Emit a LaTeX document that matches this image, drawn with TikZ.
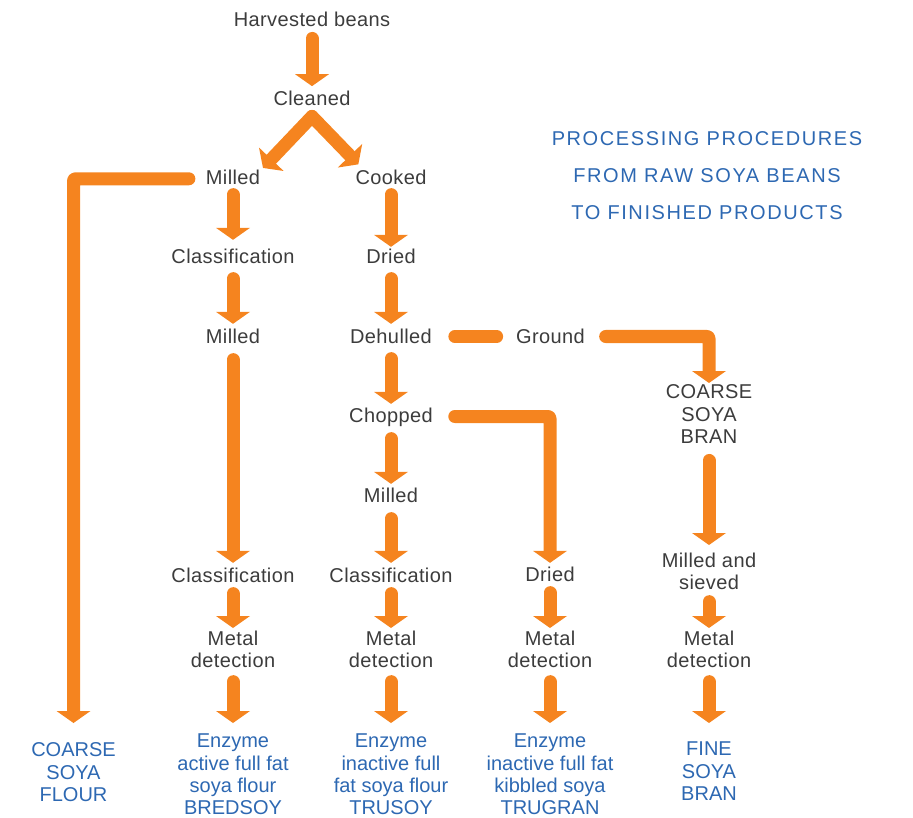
\documentclass[tikz,border=0pt]{standalone}
\usepackage{fontspec}
\setmainfont{Liberation Sans}
\newfontfamily\ttlfont[LetterSpace=8]{Liberation Sans}
\newfontfamily\grayfont[LetterSpace=2]{Liberation Sans}
\usetikzlibrary{arrows.meta}
\definecolor{orng}{HTML}{F5841F}
\definecolor{txtg}{HTML}{3C3C3C}
\definecolor{txtb}{HTML}{2D68B2}
\begin{document}
\begin{tikzpicture}[x=1pt,y=-1pt,
  lab/.style={text=txtg, font=\grayfont\fontsize{20}{22.5}\selectfont, inner sep=0pt, outer sep=0pt, text height=14.3pt, text depth=0pt},
  mlab/.style={text=txtg, font=\grayfont\fontsize{20}{22.5}\selectfont, inner sep=0pt, outer sep=0pt, align=center, anchor=north},
  prod/.style={mlab, text=txtb, font=\normalfont\fontsize{20}{22.3}\selectfont},
  flow/.style={draw=orng, line width=13pt, line cap=round, line join=round, rounded corners=2pt},
  arr/.style={flow, -{Triangle[width=34pt,length=12pt,line width=0pt]}},
]
\useasboundingbox (0,0) rectangle (913,818);

% nodes
\node[lab] (hb) at (312,19.3) {Harvested beans};
\node[lab] (cl) at (312,98.3) {Cleaned};
\node[lab] (m1) at (233,177.5) {Milled};
\node[lab] (ck) at (391,177.5) {Cooked};
\node[lab] (c1) at (233,256) {Classification};
\node[lab] (d1) at (391,256.5) {Dried};
\node[lab] (m2) at (233,336) {Milled};
\node[lab] (dh) at (391,336.5) {Dehulled};
\node[lab] (gr) at (550.5,336.5) {Ground};
\node[mlab] (csb) at (709,385) {COARSE\\SOYA\\BRAN};
\node[lab] (ch) at (391,415) {Chopped};
\node[lab] (m3) at (391,495) {Milled};
\node[lab] (c2) at (233,575) {Classification};
\node[lab] (c3) at (391,575) {Classification};
\node[lab] (d2) at (550,574) {Dried};
\node[mlab] (ms) at (709,553) {Milled and\\sieved};
\node[mlab] (md1) at (233,631) {Metal\\detection};
\node[mlab] (md2) at (391,631) {Metal\\detection};
\node[mlab] (md3) at (550,631) {Metal\\detection};
\node[mlab] (md4) at (709,631) {Metal\\detection};
\node[prod] (p0) at (73.5,743) {COARSE\\SOYA\\FLOUR};
\node[prod] (p1) at (233,734) {Enzyme\\active full fat\\soya flour\\BREDSOY};
\node[prod] (p2) at (391,734) {Enzyme\\inactive full\\fat soya flour\\TRUSOY};
\node[prod] (p3) at (550,734) {Enzyme\\inactive full fat\\kibbled soya\\TRUGRAN};
\node[prod] (p4) at (709,742) {FINE\\SOYA\\BRAN};
\node[prod, font=\ttlfont\fontsize{20}{36.7}\selectfont] (ttl) at (707,131.7)
  {PROCESSING PROCEDURES\\FROM RAW SOYA BEANS\\TO FINISHED PRODUCTS};

% connectors
\draw[arr, shorten <=12pt, shorten >=5pt] (hb.south) -- (cl.north);
\coordinate (apex) at ([yshift=-11pt]cl.south);
\draw[arr] (apex) -- ([xshift=2.9pt,yshift=2.4pt]m1.north east);
\draw[arr] (apex) -- ([xshift=2.8pt,yshift=6pt]ck.north west);
\draw[arr, shorten >=20pt] ([xshift=-17pt,yshift=-1.3pt]m1.west) -| (p0.north);

\draw[arr, shorten <=10pt, shorten >=9pt] (m1.south) -- (c1.north);
\draw[arr, shorten <=15.5pt, shorten >=5pt] (c1.south) -- (m2.north);
\draw[arr, shorten <=16.5pt, shorten >=5pt] (m2.south) -- (c2.north);
\draw[arr, shorten <=11.5pt, shorten >=3pt] (c2.south) -- (md1.north);
\draw[arr, shorten <=13.5pt, shorten >=11pt] (md1.south) -- (p1.north);

\draw[arr, shorten <=10pt, shorten >=2.5pt] (ck.south) -- (d1.north);
\draw[arr, shorten <=15pt, shorten >=5.5pt] (d1.south) -- (dh.north);
\draw[arr, shorten <=15pt, shorten >=4pt] (dh.south) -- (ch.north);
\draw[arr, shorten <=16.5pt, shorten >=4pt] (ch.south) -- (m3.north);
\draw[arr, shorten <=16.5pt, shorten >=5pt] (m3.south) -- (c3.north);
\draw[arr, shorten <=11.5pt, shorten >=3pt] (c3.south) -- (md2.north);
\draw[arr, shorten <=13.5pt, shorten >=11pt] (md2.south) -- (p2.north);

\draw[flow, shorten <=23pt, shorten >=19.5pt] (dh.east) -- (gr.west);
\draw[arr, shorten <=20.8pt, shorten >=2pt] (gr.east) -| (csb.north);
\draw[arr, shorten <=22pt, shorten >=4pt] ([yshift=-1.5pt]ch.east) -| (d2.north);
\draw[arr, shorten <=11.5pt, shorten >=3pt] (d2.south) -- (md3.north);
\draw[arr, shorten <=13.5pt, shorten >=11pt] (md3.south) -- (p3.north);

\draw[arr, shorten <=16.5pt, shorten >=8pt] (csb.south) -- (ms.north);
\draw[arr, shorten <=11.5pt, shorten >=3pt] (ms.south) -- (md4.north);
\draw[arr, shorten <=13.5pt, shorten >=19pt] (md4.south) -- (p4.north);
\end{tikzpicture}
\end{document}
